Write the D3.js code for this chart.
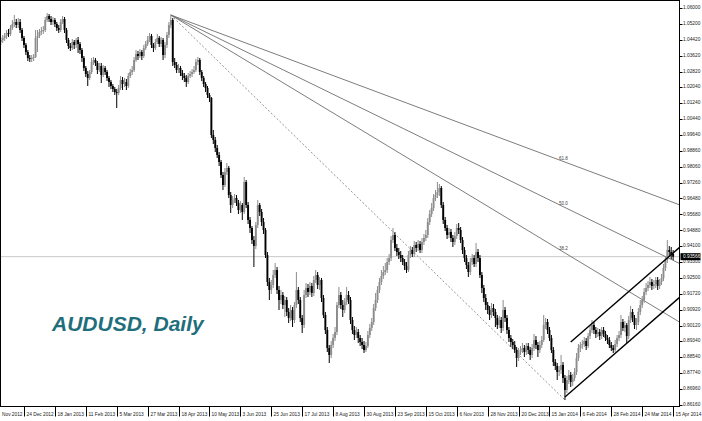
<!DOCTYPE html>
<html><head><meta charset="utf-8">
<script src="https://cdn.jsdelivr.net/npm/d3@7"></script>
<style>html,body{margin:0;padding:0;background:#fff;}svg{display:block;}</style>
</head><body>
<script>
// ---------- DATA (AUDUSD daily OHLC) ----------
const opens = [
1.043,1.044,1.045,1.046,1.0475,1.047,1.05,1.052,1.053,1.0515,
1.053,1.049,1.045,1.0415,1.038,1.035,1.0345,1.035,1.0355,1.045,
1.046,1.048,1.0485,1.049,1.054,1.056,1.0545,1.053,1.054,1.052,
1.05,1.049,1.053,1.0545,1.049,1.044,1.041,1.04,1.043,1.0415,
1.044,1.042,1.039,1.035,1.03,1.027,1.025,1.028,1.033,1.034,
1.0325,1.029,1.031,1.0265,1.03,1.028,1.025,1.023,1.021,1.0195,
1.018,1.0175,1.02,1.024,1.022,1.023,1.021,1.026,1.028,1.029,
1.034,1.037,1.036,1.038,1.036,1.04,1.042,1.044,1.046,1.0415,
1.04,1.043,1.045,1.042,1.044,1.0365,1.0415,1.0465,1.0515,1.054,
1.033,1.0315,1.029,1.03,1.0275,1.026,1.025,1.023,1.026,1.027,
1.028,1.029,1.033,1.034,1.028,1.025,1.022,1.02,1.0165,1.015,
0.9965,0.994,0.99,0.9865,0.983,0.9765,0.9715,0.978,0.98,0.9665,
0.9615,0.964,0.965,0.9625,0.959,0.9615,0.958,0.973,0.9615,0.954,
0.95,0.944,0.941,0.9515,0.9615,0.958,0.953,0.949,0.9365,0.923,
0.919,0.9215,0.9265,0.929,0.919,0.914,0.9165,0.9115,0.914,0.908,
0.905,0.909,0.904,0.9115,0.919,0.914,0.905,0.9015,0.9165,0.92,
0.918,0.921,0.9175,0.924,0.9265,0.9215,0.924,0.915,0.9065,0.899,
0.89,0.8865,0.8915,0.895,0.898,0.9115,0.9165,0.9115,0.909,0.913,
0.9165,0.914,0.904,0.899,0.8965,0.898,0.895,0.893,0.8915,0.889,
0.891,0.8965,0.9,0.903,0.91,0.914,0.919,0.923,0.926,0.928,
0.929,0.933,0.935,0.944,0.9465,0.94,0.938,0.9365,0.935,0.933,
0.931,0.929,0.9365,0.939,0.937,0.9415,0.94,0.942,0.939,0.943,
0.945,0.9465,0.953,0.957,0.96,0.965,0.9665,0.968,0.97,0.9615,
0.954,0.95,0.9465,0.948,0.945,0.943,0.946,0.95,0.949,0.944,
0.939,0.935,0.9315,0.928,0.933,0.935,0.932,0.938,0.935,0.9265,
0.92,0.915,0.9115,0.909,0.9065,0.91,0.908,0.905,0.9015,0.904,
0.9,0.909,0.905,0.899,0.895,0.893,0.8915,0.889,0.885,0.888,
0.889,0.89,0.888,0.891,0.889,0.8865,0.89,0.894,0.8915,0.889,
0.8915,0.894,0.9015,0.903,0.899,0.895,0.889,0.883,0.881,0.878,
0.879,0.8815,0.875,0.869,0.874,0.8765,0.873,0.875,0.878,0.885,
0.89,0.8915,0.892,0.8935,0.891,0.896,0.899,0.9015,0.899,0.897,
0.898,0.896,0.899,0.897,0.895,0.894,0.8915,0.89,0.889,0.892,
0.895,0.8965,0.903,0.9,0.9015,0.896,0.904,0.908,0.905,0.9015,
0.903,0.908,0.9115,0.914,0.918,0.92,0.9215,0.923,0.921,0.922,
0.924,0.921,0.923,0.925,0.93,0.934,0.939,0.938,0.937
];
const highs = [
1.0455,1.0465,1.0475,1.049,1.0495,1.0515,1.054,1.0565,1.0545,1.055,
1.0545,1.05,1.046,1.0425,1.039,1.0365,1.0365,1.037,1.049,1.049,
1.0495,1.0505,1.051,1.0555,1.0575,1.057,1.056,1.0555,1.055,1.053,
1.0515,1.0545,1.056,1.0555,1.05,1.045,1.0425,1.0445,1.044,1.045,
1.0455,1.043,1.04,1.036,1.031,1.0285,1.029,1.035,1.0355,1.035,
1.0335,1.0325,1.0325,1.0315,1.031,1.029,1.026,1.024,1.022,1.0205,
1.0195,1.0215,1.026,1.0255,1.025,1.0245,1.0275,1.0295,1.031,1.0355,
1.039,1.0385,1.0395,1.039,1.0415,1.0435,1.046,1.0475,1.047,1.0425,
1.0445,1.047,1.046,1.0455,1.045,1.043,1.048,1.053,1.0565,1.055,
1.035,1.033,1.032,1.031,1.029,1.0275,1.0265,1.0275,1.0285,1.0295,
1.031,1.0345,1.0355,1.035,1.029,1.026,1.023,1.021,1.0175,1.0155,
0.999,0.9955,0.9915,0.988,0.984,0.978,0.98,0.9825,0.981,0.968,
0.966,0.967,0.9665,0.964,0.9635,0.9625,0.9755,0.974,0.963,0.9555,
0.951,0.946,0.953,0.964,0.9625,0.9595,0.955,0.95,0.938,0.925,
0.924,0.929,0.9325,0.9305,0.921,0.919,0.918,0.916,0.9155,0.91,
0.9115,0.9105,0.913,0.928,0.9205,0.9155,0.9065,0.919,0.9225,0.922,
0.923,0.9225,0.926,0.929,0.928,0.9255,0.925,0.9165,0.908,0.9005,
0.8915,0.8935,0.897,0.9005,0.913,0.9205,0.918,0.914,0.915,0.9205,
0.9185,0.9155,0.9055,0.901,0.9005,0.8995,0.8965,0.895,0.8935,0.893,
0.8985,0.902,0.905,0.912,0.9175,0.921,0.925,0.929,0.931,0.9325,
0.935,0.937,0.946,0.95,0.948,0.942,0.94,0.9385,0.9365,0.9345,
0.933,0.9385,0.941,0.9405,0.9435,0.943,0.944,0.9435,0.945,0.947,
0.949,0.955,0.959,0.9625,0.967,0.969,0.973,0.972,0.971,0.963,
0.9555,0.9515,0.95,0.9495,0.9465,0.948,0.952,0.9525,0.9505,0.9455,
0.9405,0.9365,0.933,0.935,0.937,0.9365,0.9425,0.9395,0.9365,0.928,
0.9215,0.917,0.913,0.911,0.9125,0.912,0.9095,0.9065,0.906,0.9055,
0.914,0.9105,0.9065,0.9005,0.8965,0.8945,0.8935,0.8905,0.89,0.891,
0.8925,0.8915,0.8925,0.8925,0.8905,0.892,0.897,0.896,0.893,0.8935,
0.896,0.9065,0.905,0.9045,0.9005,0.8965,0.8905,0.8845,0.8825,0.881,
0.8865,0.883,0.8765,0.876,0.879,0.878,0.877,0.88,0.8875,0.892,
0.893,0.894,0.8955,0.895,0.8975,0.901,0.904,0.903,0.9005,0.9,
0.8995,0.9005,0.9005,0.8985,0.8965,0.8955,0.893,0.8915,0.894,0.8965,
0.8985,0.9065,0.9045,0.9035,0.9025,0.906,0.911,0.9095,0.9065,0.905,
0.91,0.914,0.916,0.92,0.9225,0.9235,0.9255,0.9245,0.924,0.9255,
0.9255,0.9245,0.927,0.932,0.936,0.944,0.941,0.9405,0.939
];
const lows = [
1.0415,1.0425,1.0435,1.0445,1.0455,1.046,1.049,1.0505,1.05,1.05,
1.0475,1.0435,1.04,1.0365,1.0335,1.033,1.033,1.0335,1.035,1.038,
1.045,1.0465,1.047,1.048,1.053,1.053,1.0515,1.0515,1.0505,1.0485,
1.0475,1.048,1.052,1.0475,1.0425,1.0395,1.0385,1.039,1.0395,1.04,
1.0375,1.037,1.033,1.0285,1.0255,1.021,1.024,1.027,1.0315,1.031,
1.027,1.028,1.0225,1.0255,1.0265,1.0235,1.0205,1.0195,1.018,1.0165,
1.01,1.0165,1.019,1.019,1.0205,1.019,1.02,1.025,1.0265,1.028,
1.033,1.034,1.035,1.034,1.035,1.039,1.041,1.043,1.04,1.038,
1.039,1.042,1.0405,1.0405,1.034,1.035,1.04,1.045,1.05,1.031,
1.03,1.0275,1.0275,1.026,1.024,1.023,1.0205,1.022,1.025,1.0255,
1.027,1.028,1.0315,1.0265,1.0235,1.0205,1.018,1.015,1.013,0.995,
0.992,0.988,0.985,0.981,0.975,0.969,0.9705,0.9765,0.965,0.9575,
0.96,0.9625,0.961,0.957,0.9575,0.954,0.957,0.96,0.952,0.9475,
0.942,0.9305,0.9395,0.95,0.956,0.951,0.947,0.935,0.921,0.914,
0.917,0.92,0.925,0.917,0.909,0.912,0.9095,0.9055,0.906,0.9025,
0.9035,0.9005,0.9025,0.91,0.912,0.903,0.8975,0.9,0.915,0.9155,
0.9165,0.9155,0.916,0.9225,0.9195,0.919,0.913,0.905,0.897,0.888,
0.8825,0.885,0.89,0.8935,0.8965,0.91,0.9095,0.9055,0.9075,0.9115,
0.912,0.902,0.897,0.894,0.895,0.8925,0.891,0.8895,0.8875,0.888,
0.89,0.895,0.8985,0.9015,0.9085,0.9125,0.9175,0.9215,0.9245,0.9265,
0.9275,0.9315,0.9335,0.9425,0.9385,0.936,0.9345,0.933,0.9315,0.929,
0.9275,0.928,0.935,0.9355,0.9355,0.938,0.9385,0.9375,0.9375,0.9415,
0.9435,0.945,0.9515,0.9555,0.9585,0.9635,0.965,0.966,0.96,0.952,
0.9485,0.9445,0.945,0.943,0.9405,0.9415,0.9445,0.947,0.9425,0.937,
0.933,0.9295,0.9255,0.9265,0.9315,0.9305,0.9305,0.933,0.925,0.9175,
0.913,0.909,0.907,0.904,0.905,0.906,0.9005,0.8995,0.9,0.8975,
0.8985,0.903,0.897,0.893,0.8905,0.8895,0.8875,0.8805,0.8835,0.8865,
0.8875,0.8855,0.8865,0.887,0.884,0.885,0.8885,0.8895,0.8855,0.8875,
0.89,0.893,0.8995,0.897,0.8935,0.8875,0.881,0.879,0.874,0.876,
0.877,0.8725,0.864,0.8675,0.872,0.8705,0.871,0.8735,0.8765,0.8835,
0.888,0.8895,0.8905,0.889,0.89,0.8945,0.8975,0.897,0.895,0.8955,
0.894,0.8945,0.8955,0.8935,0.892,0.89,0.8885,0.8875,0.888,0.8905,
0.8935,0.895,0.8985,0.898,0.8925,0.8945,0.9025,0.903,0.8995,0.899,
0.9015,0.9065,0.91,0.9125,0.9165,0.9185,0.92,0.919,0.9195,0.92,
0.919,0.9195,0.9215,0.9235,0.9285,0.9325,0.9355,0.9345,0.934
];
const closes = [
1.044,1.045,1.046,1.0475,1.047,1.05,1.052,1.053,1.0515,1.053,
1.049,1.045,1.0415,1.038,1.035,1.0345,1.035,1.0355,1.045,1.046,
1.048,1.0485,1.049,1.054,1.056,1.0545,1.053,1.054,1.052,1.05,
1.049,1.053,1.0545,1.049,1.044,1.041,1.04,1.043,1.0415,1.044,
1.042,1.039,1.035,1.03,1.027,1.025,1.028,1.033,1.034,1.0325,
1.029,1.031,1.0265,1.03,1.028,1.025,1.023,1.021,1.0195,1.018,
1.0175,1.02,1.024,1.022,1.023,1.021,1.026,1.028,1.029,1.034,
1.037,1.036,1.038,1.036,1.04,1.042,1.044,1.046,1.0415,1.04,
1.043,1.045,1.042,1.044,1.0365,1.0415,1.0465,1.0515,1.054,1.033,
1.0315,1.029,1.03,1.0275,1.026,1.025,1.023,1.026,1.027,1.028,
1.029,1.033,1.034,1.028,1.025,1.022,1.02,1.0165,1.015,0.9965,
0.994,0.99,0.9865,0.983,0.9765,0.9715,0.978,0.98,0.9665,0.9615,
0.964,0.965,0.9625,0.959,0.9615,0.958,0.973,0.9615,0.954,0.95,
0.944,0.941,0.9515,0.9615,0.958,0.953,0.949,0.9365,0.923,0.919,
0.9215,0.9265,0.929,0.919,0.914,0.9165,0.9115,0.914,0.908,0.905,
0.909,0.904,0.9115,0.919,0.914,0.905,0.9015,0.9165,0.92,0.918,
0.921,0.9175,0.924,0.9265,0.9215,0.924,0.915,0.9065,0.899,0.89,
0.8865,0.8915,0.895,0.898,0.9115,0.9165,0.9115,0.909,0.913,0.9165,
0.914,0.904,0.899,0.8965,0.898,0.895,0.893,0.8915,0.889,0.891,
0.8965,0.9,0.903,0.91,0.914,0.919,0.923,0.926,0.928,0.929,
0.933,0.935,0.944,0.9465,0.94,0.938,0.9365,0.935,0.933,0.931,
0.929,0.9365,0.939,0.937,0.9415,0.94,0.942,0.939,0.943,0.945,
0.9465,0.953,0.957,0.96,0.965,0.9665,0.968,0.97,0.9615,0.954,
0.95,0.9465,0.948,0.945,0.943,0.946,0.95,0.949,0.944,0.939,
0.935,0.9315,0.928,0.933,0.935,0.932,0.938,0.935,0.9265,0.92,
0.915,0.9115,0.909,0.9065,0.91,0.908,0.905,0.9015,0.904,0.9,
0.909,0.905,0.899,0.895,0.893,0.8915,0.889,0.885,0.888,0.889,
0.89,0.888,0.891,0.889,0.8865,0.89,0.894,0.8915,0.889,0.8915,
0.894,0.9015,0.903,0.899,0.895,0.889,0.883,0.881,0.878,0.879,
0.8815,0.875,0.869,0.874,0.8765,0.873,0.875,0.878,0.885,0.89,
0.8915,0.892,0.8935,0.891,0.896,0.899,0.9015,0.899,0.897,0.898,
0.896,0.899,0.897,0.895,0.894,0.8915,0.89,0.889,0.892,0.895,
0.8965,0.903,0.9,0.9015,0.896,0.904,0.908,0.905,0.9015,0.903,
0.908,0.9115,0.914,0.918,0.92,0.9215,0.923,0.921,0.922,0.924,
0.921,0.923,0.925,0.93,0.934,0.939,0.938,0.937,0.93566
];
// time-axis labels: one every 16 bars; the first one is shown truncated at the left edge
const timeLabels = ["Nov 2012","24 Dec 2012","18 Jan 2013","11 Feb 2013","5 Mar 2013","27 Mar 2013",
  "18 Apr 2013","10 May 2013","3 Jun 2013","25 Jun 2013","17 Jul 2013","8 Aug 2013","30 Aug 2013",
  "23 Sep 2013","15 Oct 2013","6 Nov 2013","28 Nov 2013","20 Dec 2013","15 Jan 2014","6 Feb 2014",
  "28 Feb 2014","24 Mar 2014","15 Apr 2014"];
const timeLabelBars = [-4,12,28,44,60,76,92,108,124,140,156,172,188,204,220,236,252,268,284,300,316,332,348];
const priceTicks = [1.06,1.052,1.0442,1.0362,1.0282,1.0204,1.0124,1.0044,0.9964,0.9886,0.9806,0.9726,
  0.9648,0.9568,0.9488,0.941,0.933,0.925,0.9172,0.9092,0.9012,0.8934,0.8854,0.8774,0.8696,0.8616];
const bidPrice = 0.93566;
// Fibonacci fan: from the April 2013 high to the January 2014 low
const fanHigh = {bar: 88, price: 1.0565};
const fanLow = {bar: 292, price: 0.864};
const fanLevels = [38.2, 50.0, 61.8];
// rising channel lines [bar, price]
const channelLower = [[292, 0.8655], [352, 0.9159]];
const channelUpper = [[295, 0.8930], [352, 0.9409]];
const title = "AUDUSD, Daily";

// ---------- DRAWING ----------
const W = 702, H = 421;
const plot = {left: 0.5, right: 679.5, top: 0.5, bottom: 406.5};
const svg = d3.select("body").append("svg").attr("width", W).attr("height", H)
  .style("font-family", "'Liberation Sans', Arial, sans-serif");
svg.append("rect").attr("width", W).attr("height", H).attr("fill", "#fff");

const x = d3.scaleLinear().domain([0, 348]).range([0.8, 0.8 + 348 * 1.932]);
const y = d3.scaleLinear().domain([0.864, 1.064]).range([400, 0]);

svg.append("defs").append("clipPath").attr("id", "clip").append("rect")
  .attr("x", plot.left).attr("y", plot.top)
  .attr("width", plot.right - plot.left).attr("height", plot.bottom - plot.top);

const g = svg.append("g").attr("clip-path", "url(#clip)");

// bid line
g.append("line").attr("x1", plot.left).attr("x2", plot.right)
  .attr("y1", y(bidPrice)).attr("y2", y(bidPrice))
  .attr("stroke", "#c8c8c8").attr("stroke-width", 1);

// fan dotted baseline
g.append("line")
  .attr("x1", x(fanHigh.bar)).attr("y1", y(fanHigh.price))
  .attr("x2", x(fanLow.bar)).attr("y2", y(fanLow.price))
  .attr("stroke", "#777").attr("stroke-width", 0.8).attr("stroke-dasharray", "2,2");

// fan rays
const endBar = 370;
fanLevels.forEach(lv => {
  const p2 = fanLow.price + (lv / 100) * (fanHigh.price - fanLow.price);
  const slope = (p2 - fanHigh.price) / (fanLow.bar - fanHigh.bar);
  const pEnd = fanHigh.price + slope * (endBar - fanHigh.bar);
  g.append("line")
    .attr("x1", x(fanHigh.bar)).attr("y1", y(fanHigh.price))
    .attr("x2", x(endBar)).attr("y2", y(pEnd))
    .attr("stroke", "#666").attr("stroke-width", 0.85);
  g.append("text")
    .attr("x", x(fanLow.bar) - 6).attr("y", y(p2) - 2.5)
    .attr("font-size", 4.6).attr("fill", "#444")
    .text(lv.toFixed(1));
});

// candles
const bars = closes.map((c, i) => ({i, o: opens[i], h: highs[i], l: lows[i], c}));
const colr = d => d.c >= d.o ? "#8c8c8c" : "#000";
g.selectAll("line.wick").data(bars).join("line").attr("class", "wick")
  .attr("x1", d => x(d.i)).attr("x2", d => x(d.i))
  .attr("y1", d => y(d.h)).attr("y2", d => y(d.l))
  .attr("stroke", colr).attr("stroke-width", 1);
g.selectAll("rect.body").data(bars).join("rect").attr("class", "body")
  .attr("x", d => x(d.i) - 0.95).attr("width", 1.9)
  .attr("y", d => y(Math.max(d.o, d.c)))
  .attr("height", d => Math.max(0.8, Math.abs(y(d.o) - y(d.c))))
  .attr("fill", colr);

// channel
[channelLower, channelUpper].forEach(seg => {
  g.append("line")
    .attr("x1", x(seg[0][0])).attr("y1", y(seg[0][1]))
    .attr("x2", x(seg[1][0])).attr("y2", y(seg[1][1]))
    .attr("stroke", "#000").attr("stroke-width", 1.4);
});

// title
svg.append("text").attr("x", 52).attr("y", 331)
  .attr("font-size", 21).attr("font-weight", "bold").attr("font-style", "italic")
  .attr("fill", "#1f6e7c").text(title);

// frame
svg.append("rect").attr("x", plot.left).attr("y", plot.top)
  .attr("width", plot.right - plot.left).attr("height", plot.bottom - plot.top)
  .attr("fill", "none").attr("stroke", "#000").attr("stroke-width", 1);

// price axis
const yAxis = svg.append("g");
priceTicks.forEach(p => {
  yAxis.append("line").attr("x1", plot.right).attr("x2", plot.right + 3)
    .attr("y1", Math.round(y(p)) + 0.5).attr("y2", Math.round(y(p)) + 0.5).attr("stroke", "#000");
  yAxis.append("text").attr("x", plot.right + 3.5).attr("y", y(p))
    .attr("dominant-baseline", "middle").attr("font-size", 4.8).attr("fill", "#222")
    .text(p.toFixed(5));
});
// bid price box
yAxis.append("rect").attr("x", plot.right + 1).attr("y", y(bidPrice) - 3.5)
  .attr("width", 20).attr("height", 7).attr("fill", "#000");
yAxis.append("text").attr("x", plot.right + 3.5).attr("y", y(bidPrice))
  .attr("dominant-baseline", "middle").attr("font-size", 4.8).attr("fill", "#fff")
  .text(bidPrice.toFixed(5));

// time axis
const xAxis = svg.append("g");
timeLabelBars.forEach((b, k) => {
  const xx = Math.round(x(b)) + 0.5;
  if (xx > plot.left) {
    xAxis.append("line").attr("x1", xx).attr("x2", xx)
      .attr("y1", plot.bottom).attr("y2", plot.bottom + 10).attr("stroke", "#000");
  }
  xAxis.append("text").attr("x", Math.max(xx + 2, 2)).attr("y", 416)
    .attr("font-size", 4.8).attr("fill", "#222").text(timeLabels[k]);
});
</script>
</body></html>
